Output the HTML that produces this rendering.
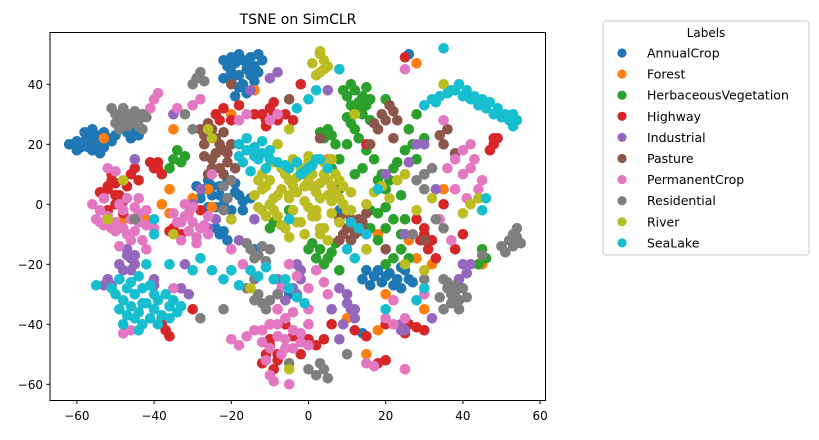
<!DOCTYPE html>
<html><head><meta charset="utf-8"><style>
body{margin:0;background:#fff;font-family:"Liberation Sans",sans-serif;}
svg text{font-family:"DejaVu Sans","Liberation Sans",sans-serif;}
</style></head><body>
<svg id="chart" width="819" height="435">
<text x="298" y="24" font-size="14" text-anchor="middle">TSNE on SimCLR</text>
<g id="points"></g>
<rect x="50" y="32.5" width="495.5" height="368" fill="none" stroke="#000" stroke-width="1"/>
<g id="axes"></g>
<g id="legend">
<rect x="603" y="21" width="206" height="234" rx="3" fill="#fff" stroke="#ccc"/>
<text x="706" y="37" font-size="12" text-anchor="middle">Labels</text>
</g>
</svg>
<script>
const classes=["AnnualCrop","Forest","HerbaceousVegetation","Highway","Industrial","Pasture","PermanentCrop","Residential","River","SeaLake"];
const colors=["#1f77b4","#ff7f0e","#2ca02c","#d62728","#9467bd","#8c564b","#e377c2","#7f7f7f","#bcbd22","#17becf"];
const xTicks=[-60,-40,-20,0,20,40,60];
const yTicks=[-60,-40,-20,0,20,40];
const annualCrop=[-61,20,-59,19,-58,21,-57,22,-56,18,-55,23,-54,20,-53,24,-52,22,-47,24,-46,22,-45,25,-44,23,-48,32,-21,46,-19,47,-17,48,-15,49,-13,50,-20,44,-18,43,-16,45,-18,39,-16,37,-14,41,-27,5,-25,3,-23,6,-21,2,-19,4,-17,1,-24,-1,-22,0,-20,-2,-26,8,-24,-8,-23,-10,-21,-12,-22,-9,15,-22,17,-24,19,-26,21,-23,23,-25,24,-28,25,-22,27,-26,14,-43,26,50,-14,-15,8,-2,-5,-30,
-62,20,-60,21,-60,18,-58,24,-57,19,-56,25,-55,21,-54,17,-53,19,-51,21,-50,23,-22,48,-20,49,-18,50,-16,47,-14,46,-12,48,-22,42,-20,41,-17,40,-15,43,-13,44,-19,36,-28,2,-26,-1,-25,6,-23,3,-21,8,-19,7,-18,3,-17,-2,-29,6,-15,2,14,-25,16,-27,18,-22,20,-24,22,-27,24,-21,26,-25];
const forest=[-53,22,-14,38,-35,25,-38,0,-30,2,-36,-3,-8,-35,15,-50,25,-55,45,-20,30,-35,18,-10,5,15,28,47,-48,-5,-20,30,-25,-1,20,-30,35,5,-42,-5,-5,-20,10,-38,0,-40,28,-18,
26,-12,32,-20,18,-42,-26,5,-36,5];
const herbVeg=[10,36,11,40,12,38,13,34,14,36,15,39,12,31,10,29,16,28,4,22,3,24,6,23,-35,15,-34,18,-33,14,12,10,14,12,18,8,20,5,22,12,24,3,16,-2,20,-8,25,-5,-10,-8,-9,-6,0,-15,2,-18,4,-20,6,-16,8,-22,20,-20,45,-15,46,-18,44,-20,12,25,20,35,-5,-2,30,10,28,15,8,5,
9,38,11,33,13,32,15,33,16,35,14,30,11,27,13,22,15,18,17,15,19,10,21,8,23,14,25,18,27,20,10,20,8,15,6,12,18,-3,20,-1,22,-5,24,-10,18,-12,5,25,7,20,1,-13,3,-15,5,-18,7,-13,22,-18,24,-15,-36,12,-32,16,
26,25,28,30,30,22,24,-15,26,-18,16,-8];
const highway=[-53,2,-52,5,-51,8,-50,0,-49,3,-48,-3,-52,-2,-51,10,-47,6,-40,12,-39,14,-38,10,-35,-8,-33,-10,-36,-9,-24,30,-23,28,-12,30,-10,32,-8,28,-11,26,-9,34,48,20,47,18,49,22,30,-8,29,-12,31,-15,28,-5,12,-42,15,-44,20,-40,25,-43,28,-41,-10,-45,-11,-50,-9,-55,-8,-52,0,-45,2,-47,-38,-40,-37,-42,-30,-35,25,49,18,-53,20,-52,15,20,35,0,-45,12,-20,-5,-2,40,-28,-2,
-52,6,-50,3,-50,7,-48,1,-54,4,-39,12,-41,14,-11,28,-9,30,48,22,30,-10,32,-12,-10,-47,-8,-50,-12,-53,
-22,32,-20,28,-18,33,-14,30,-6,30,-4,28,40,-10,38,-15,33,-18,-6,-40,-4,-44,-2,-50,4,-45,6,-40,26,-40,30,-42,-38,-38,-36,-44,-44,8,-46,10];
const industrial=[-47,-15,-46,-18,-45,-20,-48,-22,-52,-25,-51,-27,-40,-25,-33,-28,-31,-30,-10,42,-8,44,-3,-20,-2,-25,-3,-30,10,-30,11,-35,12,-38,9,-40,25,-42,24,-40,40,-20,41,-23,39,-25,-30,0,-45,15,-18,-12,5,38,20,10,30,20,-35,30,25,-10,-15,38,8,-45,-28,5,-14,-5,32,-38,
-47,-17,-45,-17,-49,-20,-46,-22,-53,-27,-40,-27,-2,-22,-4,-28,10,-33,12,-35,24,-42,42,-20,
28,20,26,14,33,5,-6,-32,-8,-25,6,-35,8,-28,-24,-5,-26,-8,-32,-20];
const pasture=[-28,25,-26,27,-24,22,-22,18,-20,20,-27,20,-25,15,-23,12,-21,14,-26,10,-24,17,-22,24,8,-5,10,-3,12,-7,14,-9,9,-10,11,-12,13,-5,15,-3,16,20,18,25,19,30,21,33,23,28,22,22,35,20,36,25,34,23,3,22,-10,-40,20,-15,-20,40,-5,35,30,-12,38,17,
-27,23,-25,25,-23,20,-21,17,-19,12,-25,12,-27,16,-22,10,10,-8,12,-10,14,-6,8,-12,11,-5,17,27,20,28,22,31];
const permCrop=[-55,-5,-54,-2,-53,2,-51,-8,-50,-6,-48,-2,-46,-5,-45,-9,-44,-3,-42,-7,-43,-12,-47,-10,-49,0,-44,2,-52,12,-50,11,-35,-3,-33,-6,-31,-9,-29,-11,-27,-7,-26,-4,-30,-1,-33,-12,-40,35,-41,32,-39,37,-10,-40,-8,-44,-6,-48,-4,-42,-2,-46,0,-40,-10,-57,-9,-59,-5,-60,-20,-45,-18,-47,-10,-48,-12,-46,40,10,42,12,44,5,41,2,43,15,45,8,-5,-20,-3,-24,0,-28,2,-22,4,-26,5,-30,20,-38,22,-40,25,-38,15,-53,17,-54,25,-55,-48,-43,-46,-42,-32,0,-25,10,-10,28,-8,30,25,45,35,28,-35,-28,-42,-15,-20,-15,-17,-20,
-56,0,-54,-6,-52,-4,-50,-9,-48,-8,-46,-12,-44,-6,-42,-2,-40,-8,-49,-14,-53,-7,-47,2,-45,-1,-34,-6,-32,-4,-30,-6,-28,-8,-26,-10,-29,-13,-31,-3,-12,-42,-8,-40,-6,-45,-4,-48,-2,-43,-11,-52,-7,-50,0,-47,
38,15,40,18,42,20,36,12,38,5,34,-5,37,-12,-8,-35,-6,-38,-4,-36,0,-35,-18,28,-16,30,-28,35,-30,33,-34,32,-14,-42,-16,-44,-9,-25,-7,-28,30,-30,22,-32];
const residential=[-50,30,-49,28,-48,32,-47,29,-46,27,-45,31,-44,26,-43,30,-49,25,-30,40,-29,42,-28,44,-27,41,-22,-2,-21,2,-22,6,-20,8,-15,-15,-13,-17,-11,-19,-10,-15,-13,-30,-12,-33,-11,-35,-14,-32,-22,-35,-5,-53,0,-55,2,-57,4,-55,5,-58,3,-53,35,-25,36,-28,38,-30,37,-33,39,-35,40,-28,34,-31,52,-12,53,-10,54,-8,55,-13,50,-14,-30,25,30,-25,45,-17,10,-50,-32,30,30,5,35,-8,15,-15,-45,-5,
-50,27,-48,29,-47,26,-46,30,-44,28,-42,29,-43,25,-51,32,36,-26,37,-30,35,-35,38,-27,39,-32,41,-31,53,-14,54,-11,51,-16,-14,-18,-12,-14,-16,-13,
28,8,30,10,32,12,33,-5,27,-10,-14,-25,-16,-28,-10,-32,-8,-30,-28,-38];
const river=[-12,5,-10,8,-8,3,-6,10,-4,6,-2,12,0,8,2,4,4,10,6,6,8,2,10,-2,-10,0,-8,-4,-6,-8,-4,-2,-2,-6,0,-1,2,-4,4,-8,6,-3,8,8,-11,12,-9,14,-4,15,0,14,3,-10,6,1,-5,2,2,-2,3,44,4,48,3,50,5,46,2,43,-25,22,-26,25,15,0,17,4,19,6,21,2,23,8,-20,-5,-35,-10,-48,8,-52,-5,40,-3,42,0,44,2,15,-15,25,-20,-5,-55,35,40,12,30,25,10,-12,-2,
-14,3,-13,8,-12,10,-11,6,-9,2,-7,5,-7,12,-5,8,-5,3,-3,9,-3,4,-1,6,-1,1,1,10,1,6,3,7,3,2,5,8,5,3,7,10,7,4,9,6,9,0,11,4,11,-2,-9,-2,-7,-7,-5,-11,-3,-6,-1,-10,1,-4,3,-8,5,-12,-11,-4,-13,-1,0,16,4,14,6,15,8,-6,1,47,3,51,4,45,
28,-2,32,2,30,-22,-15,-28,-8,20,-5,25];
const seaLake=[-50,-30,-48,-32,-46,-34,-44,-36,-42,-33,-40,-35,-38,-37,-36,-34,-34,-36,-47,-28,-45,-38,-43,-40,-39,-32,-41,-27,-49,-25,-18,20,-16,22,-14,19,-12,21,-10,18,-17,14,-15,11,-13,15,-11,12,-5,12,-3,14,-1,11,1,13,3,15,5,12,-15,-22,-13,-24,-11,-21,-9,-25,40,36,42,35,44,33,46,32,48,30,50,29,52,28,53,26,30,33,32,35,34,36,36,37,38,38,35,52,-5,-28,-3,-31,-1,-33,-6,-25,11,-6,13,-8,15,-10,-3,32,0,35,2,38,-25,-22,45,-2,46,2,-5,-5,20,-35,-40,-5,18,5,8,45,-55,-27,
-51,-28,-49,-35,-47,-37,-45,-30,-43,-28,-41,-38,-39,-40,-37,-30,-35,-32,-33,-34,-43,-33,-46,-26,-48,-40,-36,-38,-40,-30,-44,-42,41,38,43,36,45,35,47,34,49,32,51,30,53,30,54,28,33,34,37,38,39,40,-16,18,-14,16,-12,17,-10,15,-8,14,-6,13,-2,10,0,12,2,15,-18,16,
-30,-22,-28,-18,-22,-25,-20,-22,-18,-27,10,-15,12,-18,30,-28,28,-32,-40,-10,-42,-20,-44,-24,-36,-20];
const series=[annualCrop,forest,herbVeg,highway,industrial,pasture,permCrop,residential,river,seaLake];
const NS="http://www.w3.org/2000/svg";
const xS=v=>308.5+v*3.86, yS=v=>204.3-v*3.0;
const pg=document.getElementById('points');
series.forEach((arr,ci)=>{
  const g=document.createElementNS(NS,'g');
  
  
  for(let i=0;i<arr.length;i+=2){
    const c=document.createElementNS(NS,'circle');
    c.setAttribute('cx',xS(arr[i]));c.setAttribute('cy',yS(arr[i+1]));c.setAttribute('r',5.3);c.setAttribute('fill',colors[ci]);
    
    
    g.appendChild(c);
  }
  pg.appendChild(g);
});
const ax=document.getElementById('axes');
xTicks.forEach(t=>{
  const l=document.createElementNS(NS,'line');const x=xS(t);
  l.setAttribute('x1',x);l.setAttribute('x2',x);l.setAttribute('y1',400.5);l.setAttribute('y2',404);l.setAttribute('stroke','#000');
  
  
  ax.appendChild(l);
  const tx=document.createElementNS(NS,'text');tx.setAttribute('x',x);tx.setAttribute('y',420);tx.setAttribute('font-size','12');tx.setAttribute('text-anchor','middle');
  tx.textContent=t<0?'\u2212'+(-t):t;
  
  
  ax.appendChild(tx);
});
yTicks.forEach(t=>{
  const l=document.createElementNS(NS,'line');const y=yS(t);
  l.setAttribute('x1',46.5);l.setAttribute('x2',50);l.setAttribute('y1',y);l.setAttribute('y2',y);l.setAttribute('stroke','#000');
  
  
  ax.appendChild(l);
  const tx=document.createElementNS(NS,'text');tx.setAttribute('x',43);tx.setAttribute('y',y+4.5);tx.setAttribute('font-size','12');tx.setAttribute('text-anchor','end');
  tx.textContent=t<0?'\u2212'+(-t):t;
  
  
  ax.appendChild(tx);
});
const lg=document.getElementById('legend');
classes.forEach((n,i)=>{
  const y=53+i*21.1;
  const c=document.createElementNS(NS,'circle');c.setAttribute('cx',622);c.setAttribute('cy',y);c.setAttribute('r',4.6);c.setAttribute('fill',colors[i]);
  
  
  lg.appendChild(c);
  const t=document.createElementNS(NS,'text');t.setAttribute('x',647);t.setAttribute('y',y+4.5);t.setAttribute('font-size','12.5');t.textContent=n;
  
  
  lg.appendChild(t);
});
</script>
</body></html>
